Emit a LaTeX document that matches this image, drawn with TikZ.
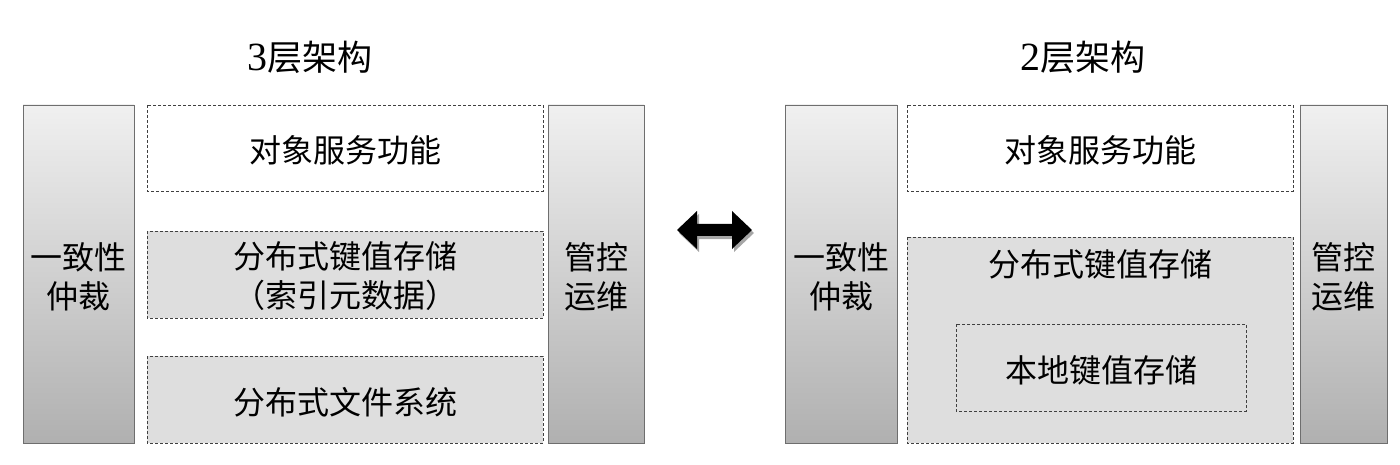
\documentclass[tikz,border=0pt]{standalone}
\usepackage{fontspec}
\setmainfont{Liberation Serif}
\newfontfamily\cjk{Noto Sans CJK SC}
\usetikzlibrary{shadows}
\definecolor{boxgray}{HTML}{DEDEDE}
\definecolor{coltop}{HTML}{F0F0F0}
\definecolor{colbot}{HTML}{B0B0B0}
\definecolor{edge}{HTML}{6E6E6E}
\tikzset{
  txt/.style={font=\cjk\fontsize{32}{39}\selectfont, text=black},
  colbox/.style={draw=edge, line width=0.9pt, top color=coltop, bottom color=colbot},
  dashbox/.style={draw=black!75, densely dashed, line width=0.7pt},
  title/.style={font=\fontsize{40}{44}\selectfont, text=black},
}
\begin{document}
\begin{tikzpicture}[x=1pt,y=-1pt]
\useasboundingbox (0,0) rectangle (1400,465);
% ---------- left: 3 layers ----------
\node[title] (t3) at (310,57) {3{\cjk\fontsize{35}{40}\selectfont 层架构}};
\path[colbox] (23,105) rectangle (134,443);
\node[txt, align=center] (c1) at (78.5,277) {一致性\\仲裁};
\path[dashbox, fill=white] (147,105) rectangle (543,191);
\node[txt] (l1) at (345,150) {对象服务功能};
\path[dashbox, fill=boxgray] (147,231) rectangle (543,318);
\node[txt, align=center] (l2) at (345,276) {分布式键值存储\\（索引元数据）};
\path[dashbox, fill=boxgray] (147,356) rectangle (543,443);
\node[txt] (l3) at (345,402) {分布式文件系统};
\path[colbox] (548,105) rectangle (644,443);
\node[txt, align=center] (m1) at (596,277) {管控\\运维};
% ---------- arrow ----------
\fill[black!35, xshift=2pt, yshift=-3pt] (677,230) -- (697,211) -- (697,224) -- (732,224) -- (732,211) -- (752,230) -- (732,249) -- (732,236) -- (697,236) -- (697,249) -- cycle;
\fill[black] (677,230) -- (697,211) -- (697,224) -- (732,224) -- (732,211) -- (752,230) -- (732,249) -- (732,236) -- (697,236) -- (697,249) -- cycle;
% ---------- right: 2 layers ----------
\node[title] (t2) at (1083,57) {2{\cjk\fontsize{35}{40}\selectfont 层架构}};
\path[colbox] (785,105) rectangle (897,443);
\node[txt, align=center] (c2) at (841,277) {一致性\\仲裁};
\path[dashbox, fill=white] (907,105) rectangle (1293,191);
\node[txt] (r1) at (1100,150) {对象服务功能};
\path[dashbox, fill=boxgray] (907,237) rectangle (1293,443);
\node[txt] (r2) at (1100,264) {分布式键值存储};
\path[dashbox, fill=boxgray] (956,324) rectangle (1246,411);
\node[txt] (r3) at (1101,370) {本地键值存储};
\path[colbox] (1300,105) rectangle (1387,443);
\node[txt, align=center] (m2) at (1343.5,277) {管控\\运维};
\end{tikzpicture}
\end{document}
